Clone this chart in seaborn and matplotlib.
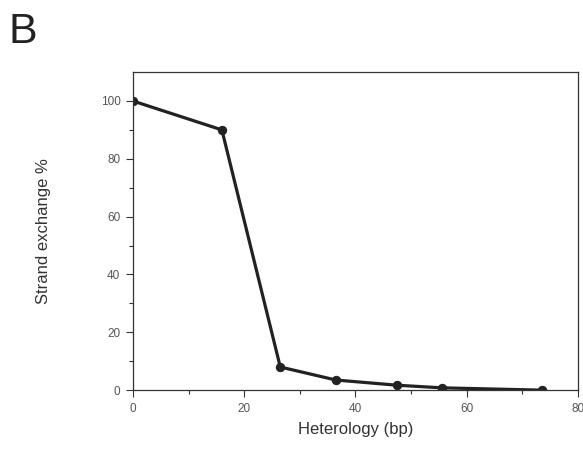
import numpy as np
import pandas as pd
import matplotlib
matplotlib.use('Agg')
import matplotlib.pyplot as plt
import seaborn as sns

# Data
heterology = [0, 16, 26.5, 36.5, 47.5, 55.5, 73.5]
strand_exchange = [100, 90, 8, 3.5, 1.7, 0.8, 0]

df = pd.DataFrame({'Heterology (bp)': heterology, 'Strand exchange %': strand_exchange})

sns.set_style('ticks')
plt.rcParams['font.family'] = ['Liberation Sans', 'DejaVu Sans']

fig = plt.figure(figsize=(5.83, 4.65), dpi=100)
ax = fig.add_axes([0.228, 0.161, 0.763, 0.684])

sns.lineplot(data=df, x='Heterology (bp)', y='Strand exchange %', ax=ax,
             color='#222222', linewidth=2.3, marker='o', markersize=6,
             markeredgecolor='#222222', markerfacecolor='#222222')

ax.set_xlim(0, 80)
ax.set_ylim(0, 110)
ax.set_xticks([0, 20, 40, 60, 80])
ax.set_xticks([10, 30, 50, 70], minor=True)
ax.set_yticks([0, 20, 40, 60, 80, 100])
ax.set_yticks([10, 30, 50, 70, 90], minor=True)
ax.tick_params(axis='both', which='major', length=5, width=0.8, color='#333333',
               labelsize=8.5, labelcolor='#555555', direction='out', pad=4)
ax.tick_params(axis='both', which='minor', length=3, width=0.8, color='#333333', direction='out')
for s in ax.spines.values():
    s.set_color('#333333')
    s.set_linewidth(0.9)

ax.set_xlabel('Heterology (bp)', fontsize=12, color='#333333', labelpad=5)
ax.set_ylabel('Strand exchange %', fontsize=12, color='#333333', labelpad=36)

fig.text(0.015, 0.975, 'B', fontsize=31, color='#222222', va='top', ha='left')

fig.savefig('out.png', dpi=100)
